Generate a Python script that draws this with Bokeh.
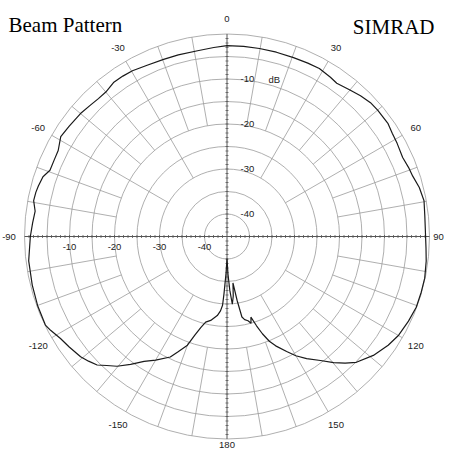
import numpy as np
from bokeh.plotting import figure
from bokeh.models import Range1d
from bokeh.core.properties import value
from bokeh.embed import file_html
from bokeh.resources import INLINE

# ---------------- data ----------------
title_left = "Beam Pattern"
title_right = "SIMRAD"

# beam pattern: angle (deg, clockwise from top) and level (dB)
angle_deg = [-180, -178.5, -177, -176.3, -175, -173, -169, -166, -164, -162,
             -160, -157, -154.8, -150, -146.4, -143, -139.7, -137, -134.7, -132,
             -129.4, -125, -121.5, -118, -116, -110, -104, -97, -90, -86,
             -82.5, -79.5, -77, -75, -72, -69.5, -66, -63, -59, -55,
             -50, -46, -43, -40, -36.4, -33, -29.7, -25, -19.7, -15,
             -9, -4, 0, 5, 9.8, 15, 20.4, 25, 28.8, 33,
             35.6, 40, 43.5, 47, 50, 55, 58, 61.3, 65.8, 69.5,
             72, 75.7, 79.7, 84, 88, 93.4, 97, 101.9, 106, 110.5,
             115, 119.9, 124, 129.1, 134.2, 137, 139.8, 143, 146.9, 150,
             152.6, 156, 158, 160, 161.7, 163.5, 164.5, 166, 168, 169.5,
             171, 172.7, 174, 175.5, 177, 178.5, 180]
level_db = [-40.1, -36.8, -32.3, -29.7, -28.4, -27.3, -26.0, -25.4, -24.0, -22.0,
            -19.3, -17.2, -15.4, -13.3, -11.7, -9.4, -7.2, -5.8, -4.4, -3.6,
            -2.9, -2.2, -1.6, -0.6, -0.1, -0.2, -0.4, -0.6, -1.3, -1.7,
            -2.0, -1.3, -1.4, -1.6, -2.0, -3.0, -3.0, -2.9, -1.9, -2.2,
            -2.5, -2.9, -3.1, -3.1, -2.5, -2.5, -2.6, -3.0, -3.2, -3.2,
            -3.2, -2.9, -2.6, -2.6, -2.6, -2.6, -2.6, -2.5, -2.4, -2.8,
            -3.1, -2.5, -1.9, -1.4, -1.3, -1.3, -1.7, -1.9, -2.2, -1.8,
            -1.6, -0.9, -0.5, -0.8, -0.9, -0.7, -0.4, -0.1, -0.1, -0.1,
            -0.5, -1.0, -1.8, -3.1, -4.9, -6.5, -8.3, -10.5, -12.6, -14.4,
            -16.2, -18.4, -19.9, -22.0, -24.1, -26.3, -25.0, -25.7, -26.1, -26.8,
            -30.6, -34.6, -31.7, -29.9, -33.0, -36.6, -40.1]

db_floor = -45
ring_db = [-40, -35, -30, -25, -20, -15, -10, -5, 0]
db_label_values = [-10, -20, -30, -40]
db_label_texts = ["-10", "-20", "-30", "-40"]
unit_text = "dB"
angle_label_values = [-150, -120, -90, -60, -30, 0, 30, 60, 90, 120, 150, 180]
angle_label_texts = ["-150", "-120", "-90", "-60", "-30", "0", "30", "60", "90", "120", "150", "180"]
spoke_step = 10
major_spoke_step = 30
major_spoke_inner_db = -30
minor_spoke_inner_db = -20
tick_step_db = 1

# ---------------- layout ----------------
PX = 4.5                 # pixels per dB
W, H = 444, 449
cx, cy = 226.5, 236.0    # centre inside the frame (px)
R = -db_floor            # outer radius in dB units

p = figure(width=W, height=H,
           x_range=Range1d(-cx / PX, (W - cx) / PX),
           y_range=Range1d(-(H - cy) / PX, cy / PX),
           x_axis_type=None, y_axis_type=None,
           output_backend="svg", toolbar_location=None, min_border=0)
p.grid.visible = False
p.outline_line_color = None
p.background_fill_color = "white"
p.border_fill_color = "white"

grid_col = "#9a9a9a"

# rings
radii = [d - db_floor for d in ring_db]
p.circle(x=[0] * len(radii), y=[0] * len(radii), radius=radii,
         fill_color=None, line_color=grid_col, line_width=0.8)

# spokes
xs, ys = [], []
for a in range(-180 + spoke_step, 180, spoke_step):
    if a % 90 == 0:
        continue
    inner = (major_spoke_inner_db if a % major_spoke_step == 0 else minor_spoke_inner_db) - db_floor
    t = np.radians(a)
    xs.append([inner * np.sin(t), R * np.sin(t)])
    ys.append([inner * np.cos(t), R * np.cos(t)])
p.multi_line(xs=xs, ys=ys, line_color=grid_col, line_width=0.8)

# main axes
ax_col = "#555555"
p.multi_line(xs=[[-R, R], [0, 0]], ys=[[0, 0], [-R, R]], line_color=ax_col, line_width=1)

# ticks along axes
tk = 1.5 / PX
pos = np.arange(tick_step_db, R, tick_step_db)
allpos = np.concatenate([-pos, pos])
p.segment(x0=allpos, y0=-tk, x1=allpos, y1=tk, line_color=ax_col, line_width=0.8)
p.segment(x0=-tk, y0=allpos, x1=tk, y1=allpos, line_color=ax_col, line_width=0.8)

# beam pattern curve
th = np.radians(angle_deg)
rr = np.clip(np.array(level_db) - db_floor, 0, R)
p.line(x=rr * np.sin(th), y=rr * np.cos(th), line_color="#1a1a1a", line_width=1.2)

lab_font = value("Liberation Sans")
lab_size = "9.5px"
lab_col = "#222222"

# dB labels on vertical axis
p.text(x=[13.5 / PX] * len(db_label_values), y=[d - db_floor for d in db_label_values],
       text=db_label_texts, text_font=lab_font, text_font_size=lab_size,
       text_color=lab_col, text_align="left", text_baseline="middle")
p.text(x=[41.5 / PX], y=[db_label_values[0] - db_floor], text=[unit_text],
       text_font=lab_font, text_font_size=lab_size, text_color=lab_col,
       text_align="left", text_baseline="middle")
# dB labels on horizontal axis
p.text(x=[-(d - db_floor) for d in db_label_values], y=[-10 / PX] * len(db_label_values),
       text=db_label_texts, text_font=lab_font, text_font_size=lab_size,
       text_color=lab_col, text_align="center", text_baseline="middle")

# angle labels
lx, ly = [], []
for a in angle_label_values:
    rl = 218.0 / PX
    if a == 90:
        rl = 211.5 / PX
    if abs(a) == 180:
        rl = 208.0 / PX
    t = np.radians(a)
    lx.append(rl * np.sin(t))
    ly.append(rl * np.cos(t))
p.text(x=lx, y=ly, text=angle_label_texts, text_font=lab_font, text_font_size=lab_size,
       text_color=lab_col, text_align="center", text_baseline="middle")

# titles
p.text(x=[(8 - cx) / PX], y=[(cy - 24.5) / PX], text=[title_left], text_font=value("Liberation Serif"),
       text_font_size="21px", text_color="black", text_align="left", text_baseline="alphabetic")
p.text(x=[(434 - cx) / PX], y=[(cy - 26) / PX], text=[title_right], text_font=value("Liberation Serif"),
       text_font_size="21px", text_color="black", text_align="right", text_baseline="alphabetic")

open("out.html", "w").write(file_html(p, INLINE))
